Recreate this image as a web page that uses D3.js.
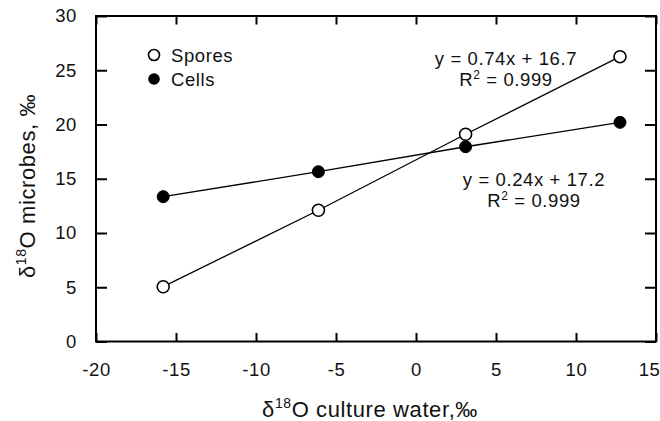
<!DOCTYPE html>
<html><head><meta charset="utf-8">
<script src="https://cdn.jsdelivr.net/npm/d3@7"></script>
<style>body{margin:0;background:#fff}svg{display:block}text{font-family:"Liberation Sans",Arial,sans-serif;fill:#111}</style>
</head><body>
<script>
const xTicks = [-20,-15,-10,-5,0,5,10,15];
const yTicks = [0,5,10,15,20,25,30];
const sporesX = [-15.8,-6.1,3.1,12.75];
const sporesY = [5.05,12.1,19.1,26.25];
const cellsX = [-15.8,-6.1,3.1,12.75];
const cellsY = [13.35,15.65,17.95,20.2];
const eqSpores = ["y = 0.74x + 16.7","0.999"];
const eqCells = ["y = 0.24x + 17.2","0.999"];

const W=660,H=421;
const svg=d3.select("body").append("svg").attr("width",W).attr("height",H);
const x=d3.scaleLinear().domain([-20,15]).range([96,656]);
const y=d3.scaleLinear().domain([0,30]).range([341.5,16]);
const fs=18.5;

// frame
svg.append("rect").attr("x",x(-20)).attr("y",y(30)).attr("width",x(15)-x(-20)).attr("height",y(0)-y(30))
  .attr("fill","none").attr("stroke","#000").attr("stroke-width",2);

// axes
const ax=svg.append("g").attr("transform",`translate(0,${y(0)})`)
  .call(d3.axisBottom(x).tickValues(xTicks).tickSizeInner(-8.5).tickSizeOuter(0).tickPadding(21).tickFormat(d=>String(d)));
const axT=svg.append("g").attr("transform",`translate(0,${y(30)})`)
  .call(d3.axisTop(x).tickValues(xTicks).tickSizeInner(-8.5).tickSizeOuter(0).tickFormat(""));
const ay=svg.append("g").attr("transform",`translate(${x(-20)},0)`)
  .call(d3.axisLeft(y).tickValues(yTicks).tickSizeInner(-11).tickSizeOuter(0).tickPadding(19).tickFormat(d=>String(d)));
const ayR=svg.append("g").attr("transform",`translate(${x(15)},0)`)
  .call(d3.axisRight(y).tickValues(yTicks).tickSizeInner(-11).tickSizeOuter(0).tickFormat(""));
[ax,axT,ay,ayR].forEach(g=>{
  g.select(".domain").remove();
  g.selectAll(".tick line").attr("stroke","#000").attr("stroke-width",2);
  g.selectAll("text").attr("font-size",fs).attr("font-family","Liberation Sans, Arial, sans-serif").attr("fill","#111").attr("letter-spacing",0.6);
});
ax.selectAll("text").attr("dy","0.71em");
ax.selectAll(".tick").filter(d=>d===15).select("text").attr("text-anchor","end").attr("x",4);

// lines
const line=d3.line().x(d=>x(d[0])).y(d=>y(d[1]));
const sp=sporesX.map((v,i)=>[v,sporesY[i]]);
const ce=cellsX.map((v,i)=>[v,cellsY[i]]);
svg.append("path").attr("d",line(ce)).attr("fill","none").attr("stroke","#000").attr("stroke-width",1.3);
svg.append("path").attr("d",line(sp)).attr("fill","none").attr("stroke","#000").attr("stroke-width",1.3);
svg.selectAll(".c").data(ce).enter().append("circle").attr("cx",d=>x(d[0])).attr("cy",d=>y(d[1])).attr("r",6)
  .attr("fill","#000").attr("stroke","#000").attr("stroke-width",1);
svg.selectAll(".s").data(sp).enter().append("circle").attr("cx",d=>x(d[0])).attr("cy",d=>y(d[1])).attr("r",6)
  .attr("fill","#fff").attr("stroke","#000").attr("stroke-width",1.6);

// legend
svg.append("circle").attr("cx",154).attr("cy",55).attr("r",5.5).attr("fill","#fff").attr("stroke","#000").attr("stroke-width",1.6);
svg.append("circle").attr("cx",154).attr("cy",79).attr("r",5.8).attr("fill","#000");
svg.append("text").attr("x",171).attr("y",62).attr("font-size",fs).attr("letter-spacing",0.6).text("Spores");
svg.append("text").attr("x",171).attr("y",86).attr("font-size",fs).attr("letter-spacing",0.6).text("Cells");

// equations
function eq(cx,cy1,cy2,lines){
  svg.append("text").attr("x",cx).attr("y",cy1).attr("text-anchor","middle").attr("font-size",fs).attr("letter-spacing",0.6).text(lines[0]);
  const t=svg.append("text").attr("x",cx).attr("y",cy2).attr("text-anchor","middle").attr("font-size",fs).attr("letter-spacing",0.6);
  t.append("tspan").text("R");
  t.append("tspan").attr("font-size",12).attr("dy",-7).text("2");
  t.append("tspan").attr("dy",7).text(" = "+lines[1]);
}
eq(506,65,86,eqSpores);
eq(534,186,207,eqCells);

// axis titles
const xt=svg.append("text").attr("x",370).attr("y",417).attr("text-anchor","middle").attr("font-size",22).attr("letter-spacing",0.6);
xt.append("tspan").text("δ");
xt.append("tspan").attr("font-size",14).attr("dy",-9).text("18");
xt.append("tspan").attr("dy",9).text("O culture water,‰");
const yt=svg.append("text").attr("transform","translate(35,186) rotate(-90)").attr("text-anchor","middle").attr("font-size",22).attr("letter-spacing",0.6);
yt.append("tspan").text("δ");
yt.append("tspan").attr("font-size",14).attr("dy",-9).text("18");
yt.append("tspan").attr("dy",9).text("O microbes, ‰");
</script>
</body></html>
